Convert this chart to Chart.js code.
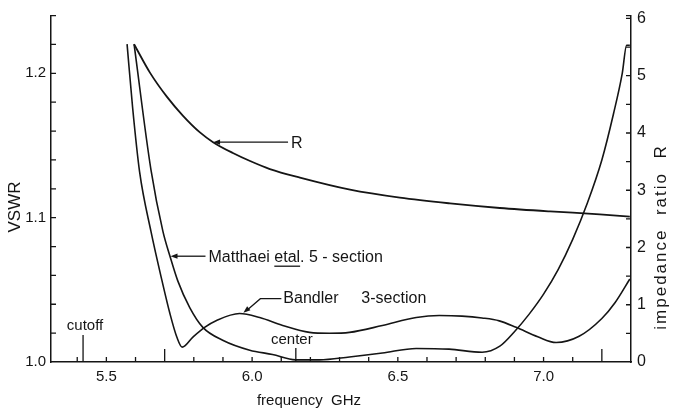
<!DOCTYPE html>
<html><head><meta charset="utf-8">
<script src="https://cdn.jsdelivr.net/npm/chart.js@4.4.0/dist/chart.umd.min.js"></script>
<style>html,body{margin:0;padding:0;background:#fff;}#wrap{width:673px;height:414px;}</style>
</head><body><div id="wrap"><canvas id="c" width="673" height="414"></canvas></div>
<script>
// ---- data ----
const freqR  = [5.595, 5.650, 5.708, 5.763, 5.821, 5.866, 5.934, 5.993, 6.061, 6.164, 6.336, 6.507, 6.679, 6.850, 7.022, 7.193, 7.296];
const ratioR = [5.55, 5.05, 4.63, 4.30, 4.01, 3.84, 3.65, 3.51, 3.37, 3.22, 3.01, 2.87, 2.77, 2.69, 2.63, 2.58, 2.54];

const freqBandler = [5.571, 5.590, 5.614, 5.653, 5.691, 5.718, 5.742, 5.760, 5.796, 5.837, 5.878, 5.957, 6.026, 6.105, 6.197, 6.265, 6.334, 6.447, 6.563, 6.642, 6.720, 6.789, 6.848, 6.906, 6.980, 7.043, 7.122, 7.200, 7.245, 7.296];
const vswrBandler = [1.2202, 1.1763, 1.1317, 1.0905, 1.0562, 1.0336, 1.0171, 1.0103, 1.0171, 1.0240, 1.0288, 1.0336, 1.0308, 1.0253, 1.0205, 1.0199, 1.0205, 1.0253, 1.0308, 1.0322, 1.0318, 1.0305, 1.0285, 1.0240, 1.0175, 1.0135, 1.0178, 1.0301, 1.0410, 1.0575];

const freqMatthaei = [5.595, 5.653, 5.694, 5.718, 5.745, 5.786, 5.831, 5.899, 5.992, 6.070, 6.149, 6.231, 6.334, 6.447, 6.563, 6.676, 6.789, 6.850, 6.900, 6.950, 7.000, 7.050, 7.100, 7.150, 7.200, 7.240, 7.270, 7.285, 7.296];
const vswrMatthaei = [1.2202, 1.1331, 1.0905, 1.0734, 1.0562, 1.0377, 1.0240, 1.0151, 1.0082, 1.0052, 1.0015, 1.0015, 1.0035, 1.0062, 1.0094, 1.0089, 1.0068, 1.0110, 1.0210, 1.0330, 1.0470, 1.0640, 1.0850, 1.1100, 1.1400, 1.1720, 1.2000, 1.2195, 1.2195];

const xTickValues = [5.5, 6.0, 6.5, 7.0];
const vswrTickValues = [1.0, 1.1, 1.2];
const ratioTickValues = [0, 1, 2, 3, 4, 5, 6];
const freqMinorTicks = [5.4,5.5,5.6,5.7,5.8,5.9,6.0,6.1,6.2,6.3,6.4,6.5,6.6,6.7,6.8,6.9,7.0,7.1,7.2];
const vswrMinorTicks = [1.02,1.04,1.06,1.08,1.10,1.12,1.14,1.16,1.18,1.20,1.22,1.24];
const ratioMinorTicks = [0.5,1,1.5,2,2.5,3,3.5,4,4.5,5,5.5,6,6.05];
const cutoffFreq = 5.42;
const centerFreq = 6.15;
const bandEdges = [5.7, 7.2];

const INK = '#151515';
const FONT = '"Liberation Sans", Arial, sans-serif';

function pts(xs, ys){ return xs.map((x,i)=>({x:x, y:ys[i]})); }

function arrowHead(ctx, x, y, ang){
  const L = 7, W = 2.6;
  ctx.beginPath();
  ctx.moveTo(x, y);
  ctx.lineTo(x - L*Math.cos(ang) + W*Math.sin(ang), y - L*Math.sin(ang) - W*Math.cos(ang));
  ctx.lineTo(x - L*Math.cos(ang) - W*Math.sin(ang), y - L*Math.sin(ang) + W*Math.cos(ang));
  ctx.closePath(); ctx.fill();
}

const deco = {
  id: 'deco',
  afterDraw(chart){
    const ctx = chart.ctx, xs = chart.scales.x, yl = chart.scales.y, yr = chart.scales.y2;
    const ca = chart.chartArea;
    ctx.save();
    ctx.strokeStyle = INK; ctx.fillStyle = INK; ctx.lineWidth = 1.3;
    ctx.beginPath();
    freqMinorTicks.forEach(f=>{ const p = xs.getPixelForValue(f); ctx.moveTo(p, ca.bottom); ctx.lineTo(p, ca.bottom-5); });
    bandEdges.forEach(f=>{ const p = xs.getPixelForValue(f); ctx.moveTo(p, ca.bottom); ctx.lineTo(p, ca.bottom-13); });
    let p = xs.getPixelForValue(centerFreq); ctx.moveTo(p, ca.bottom); ctx.lineTo(p, ca.bottom-14);
    p = xs.getPixelForValue(cutoffFreq); ctx.moveTo(p, ca.bottom); ctx.lineTo(p, ca.bottom-27);
    vswrMinorTicks.forEach(v=>{ const q = yl.getPixelForValue(v); ctx.moveTo(ca.left, q); ctx.lineTo(ca.left+5, q); });
    ratioMinorTicks.forEach(v=>{ const q = yr.getPixelForValue(v); ctx.moveTo(ca.right, q); ctx.lineTo(ca.right-5, q); });
    ctx.stroke();

    ctx.font = '15px ' + FONT;
    ctx.textAlign = 'center'; ctx.textBaseline = 'middle';
    ctx.fillText('cutoff', xs.getPixelForValue(cutoffFreq)+2, ca.bottom-36);
    ctx.fillText('center', xs.getPixelForValue(centerFreq)-4, ca.bottom-22);

    ctx.font = '16px ' + FONT;
    ctx.textAlign = 'left';
    // R
    let tipX = xs.getPixelForValue(5.866), tipY = yr.getPixelForValue(3.84);
    ctx.fillText('R', tipX+78, tipY+1);
    ctx.beginPath(); ctx.moveTo(tipX+75, tipY); ctx.lineTo(tipX+5, tipY); ctx.stroke();
    arrowHead(ctx, tipX, tipY, Math.PI);
    // Matthaei
    tipX = xs.getPixelForValue(5.72); tipY = yl.getPixelForValue(1.0733);
    const mx = tipX + 38;
    ctx.fillText('Matthaei ', mx, tipY+1);
    const w = ctx.measureText('Matthaei ').width;
    ctx.fillText('etal', mx+w, tipY+1);
    const w2 = ctx.measureText('etal').width;
    ctx.beginPath(); ctx.moveTo(mx+w, tipY+10); ctx.lineTo(mx+w+w2, tipY+10); ctx.stroke();
    ctx.fillText('. 5 - section', mx+w+w2, tipY+1);
    ctx.beginPath(); ctx.moveTo(mx-3, tipY); ctx.lineTo(tipX+5, tipY); ctx.stroke();
    arrowHead(ctx, tipX, tipY, Math.PI);
    // Bandler
    tipX = xs.getPixelForValue(5.97); tipY = yl.getPixelForValue(1.0342);
    const by = tipY - 14;
    ctx.fillText('Bandler', tipX+40, by);
    ctx.fillText('3-section', tipX+118, by);
    ctx.beginPath(); ctx.moveTo(tipX+38, by); ctx.lineTo(tipX+17, by); ctx.lineTo(tipX+3, tipY-2); ctx.stroke();
    arrowHead(ctx, tipX, tipY, Math.atan2(tipY-by, -17));

    // axis titles
    ctx.font = '15px ' + FONT; ctx.textAlign = 'center';
    ctx.fillText('frequency  GHz', 309, 401);
    ctx.font = '17px ' + FONT;
    ctx.save(); ctx.translate(15, 207); ctx.rotate(-Math.PI/2); ctx.fillText('VSWR', 0, 0); ctx.restore();
    ctx.save(); ctx.translate(661, 237); ctx.rotate(-Math.PI/2);
    ctx.letterSpacing = '2px';
    ctx.fillText('impedance  ratio  R', 0, 0); ctx.restore();
    ctx.restore();
  }
};

const lineStyle = {borderColor: INK, borderWidth: 1.6, pointRadius: 0, fill: false, cubicInterpolationMode: 'monotone'};

new Chart(document.getElementById('c'), {
  type: 'line',
  data: {
    datasets: [
      Object.assign({label: 'R', data: pts(freqR, ratioR), yAxisID: 'y2'}, lineStyle, {borderWidth: 1.8}),
      Object.assign({label: 'Bandler 3-section', data: pts(freqBandler, vswrBandler), yAxisID: 'y'}, lineStyle),
      Object.assign({label: 'Matthaei etal. 5-section', data: pts(freqMatthaei, vswrMatthaei), yAxisID: 'y'}, lineStyle)
    ]
  },
  options: {
    responsive: false, animation: false, devicePixelRatio: 1,
    layout: {padding: {top: 12, left: 0, right: 0, bottom: 0}},
    plugins: {legend: {display: false}, tooltip: {enabled: false}},
    scales: {
      x: {
        type: 'linear', position: 'bottom', min: 5.31, max: 7.30,
        afterFit: s => { s.height = 52; },
        afterBuildTicks: s => { s.ticks = xTickValues.map(v=>({value:v})); },
        grid: {display: false, drawTicks: false},
        border: {display: true, color: INK, width: 1.5},
        ticks: {padding: 6, color: INK, font: {family: FONT, size: 15}, maxRotation: 0, autoSkip: false, callback: v => v.toFixed(1)}
      },
      y: {
        type: 'linear', position: 'left', min: 1.0, max: 1.24,
        afterFit: s => { s.width = 51; },
        afterBuildTicks: s => { s.ticks = vswrTickValues.map(v=>({value:v})); },
        grid: {display: false, drawTicks: false},
        border: {display: true, color: INK, width: 1.5},
        ticks: {padding: 5, color: INK, font: {family: FONT, size: 15}, autoSkip: false, callback: v => v.toFixed(1)}
      },
      y2: {
        type: 'linear', position: 'right', min: 0, max: 6.05,
        afterFit: s => { s.width = 42; },
        afterBuildTicks: s => { s.ticks = ratioTickValues.map(v=>({value:v})); },
        grid: {display: false, drawTicks: false},
        border: {display: true, color: INK, width: 1.5},
        ticks: {padding: 6, color: INK, font: {family: FONT, size: 16}, autoSkip: false, callback: v => String(v)}
      }
    }
  },
  plugins: [deco]
});
</script></body></html>
